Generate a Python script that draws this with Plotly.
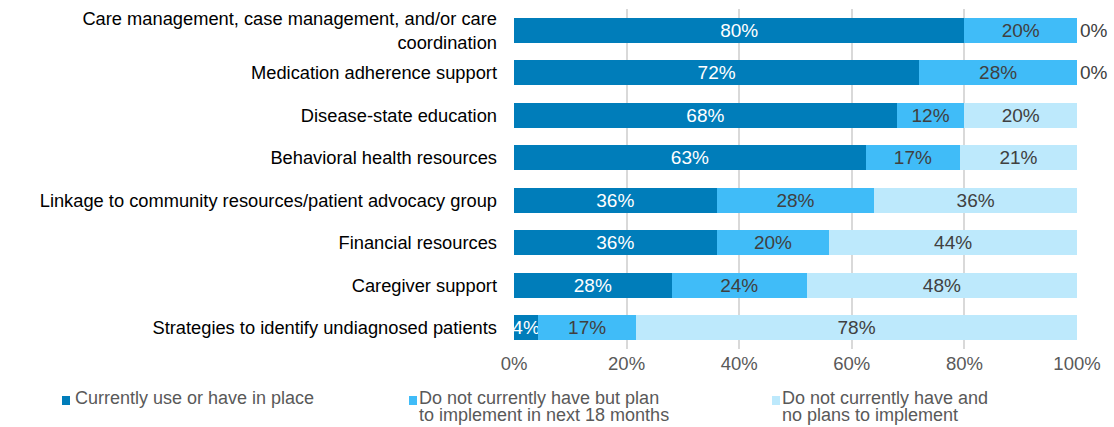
import plotly.graph_objects as go

categories = [
    "Care management, case management, and/or care<br>coordination",
    "Medication adherence support",
    "Disease-state education",
    "Behavioral health resources",
    "Linkage to community resources/patient advocacy group",
    "Financial resources",
    "Caregiver support",
    "Strategies to identify undiagnosed patients",
]
series_names = [
    "Currently use or have in place",
    "Do not currently have but plan<br>to implement in next 18 months",
    "Do not currently have and<br>no plans to implement",
]
use_now = [80, 72, 68, 62.5, 36, 36, 28, 4.3]
plan_18m = [20, 28, 12, 16.7, 28, 20, 24, 17.4]
no_plans = [0, 0, 20, 20.8, 36, 44, 48, 78.3]
tick_vals = [0, 20, 40, 60, 80, 100]
tick_text = ["0%", "20%", "40%", "60%", "80%", "100%"]

colors = ["#007DBA", "#40BCF8", "#BDE9FC"]
text_colors = ["#FFFFFF", "#404040", "#404040"]
FONT = "Liberation Sans, Arial, sans-serif"

W, H = 1114, 427
L, R, T, B = 514, 37, 9, 78
PW, PH = W - L - R, H - T - B


def pct(v):
    return f"{int(v + 0.5)}%"


fig = go.Figure()
for name, vals, col, tcol in zip(series_names, [use_now, plan_18m, no_plans], colors, text_colors):
    positions = ["outside" if v == 0 else "inside" for v in vals]
    fig.add_trace(go.Bar(
        y=categories, x=vals, name=name, orientation="h",
        marker=dict(color=col, line=dict(width=0)),
        text=[pct(v) for v in vals],
        textposition=positions,
        insidetextanchor="middle",
        textangle=0,
        constraintext="none",
        cliponaxis=False,
        textfont=dict(family=FONT, size=19, color=tcol),
        outsidetextfont=dict(family=FONT, size=19, color="#404040"),
        showlegend=False,
        hoverinfo="skip",
    ))

fig.update_layout(
    width=W, height=H, barmode="stack", bargap=0.41,
    margin=dict(l=L, r=R, t=T, b=B, pad=0),
    paper_bgcolor="white", plot_bgcolor="white",
    font=dict(family=FONT, size=18, color="#000000"),
    xaxis=dict(range=[0, 100], tickvals=tick_vals, ticktext=tick_text,
               showgrid=True, gridcolor="#D9D9D9", gridwidth=1.5,
               zeroline=False, showline=False,
               tickfont=dict(family=FONT, size=18.5, color="#595959"),
               ticklabelstandoff=1, fixedrange=True),
    yaxis=dict(autorange="reversed", showgrid=False, zeroline=False, showline=False,
               tickfont=dict(family=FONT, size=18.3, color="#000000"),
               ticklabelstandoff=16, fixedrange=True),
)


def px(x):
    return (x - L) / PW


def py(y):
    return (H - B - y) / PH


# Legend drawn manually (squares + text lines) to match the reference layout
legend_items = [(62, 73), (409, 417), (772, 780)]
for (sq_x, tx_x), name, col in zip(legend_items, series_names, colors):
    fig.add_shape(type="rect", xref="paper", yref="paper",
                  x0=px(sq_x), x1=px(sq_x + 8), y0=py(405), y1=py(396),
                  fillcolor=col, line=dict(width=0))
    for i, line in enumerate(name.split("<br>")):
        fig.add_annotation(xref="paper", yref="paper", x=px(tx_x), y=py(398 + 17 * i),
                           xanchor="left", yanchor="middle", align="left",
                           text=line, showarrow=False,
                           font=dict(family=FONT, size=18, color="#595959"))

fig.write_html("out.html")
